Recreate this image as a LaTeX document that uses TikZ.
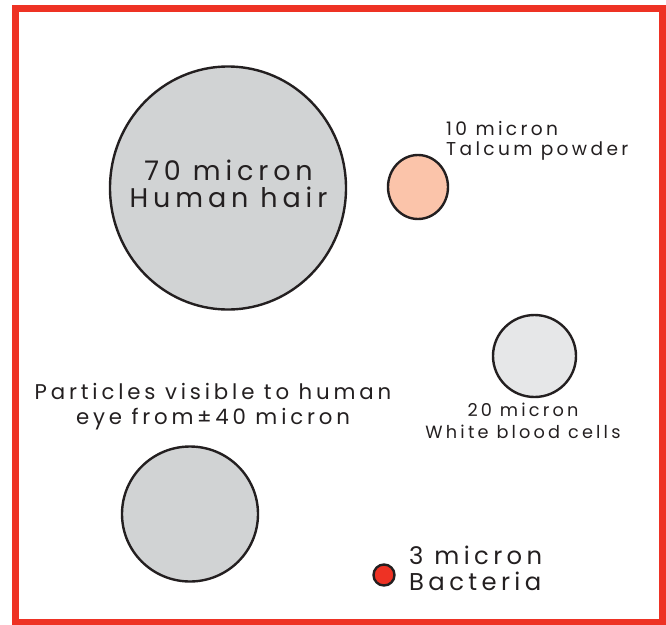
\documentclass[tikz,border=0pt]{standalone}
\usepackage{fontspec}
\setmainfont{Poppins}[LetterSpace=18]
\usetikzlibrary{shapes.geometric}
\definecolor{frame}{HTML}{EE3224}
\definecolor{ink}{HTML}{231F20}
\definecolor{hairgray}{HTML}{D1D3D4}
\definecolor{wbcgray}{HTML}{E6E7E8}
\definecolor{talc}{HTML}{FBC4AA}
\begin{document}
\begin{tikzpicture}[x=1pt,y=-1pt,
  particle/.style={ellipse, draw=ink, line width=2.4pt, inner sep=0pt, outer sep=0pt},
  lbl/.style={text=ink, inner sep=0pt},
  talclbl/.style={lbl, font=\fontsize{18.6}{20.5}\selectfont},
  vislbl/.style={lbl, font=\fontsize{21.3}{25}\selectfont},
  wbclbl/.style={lbl, font=\fontsize{17.7}{21.5}\selectfont},
  biglbl/.style={lbl, font=\fontsize{24.3}{26}\selectfont},
  hairlbl/.style={lbl, font=\fontsize{27}{27}\selectfont}]
\useasboundingbox (0,0) rectangle (666,624);
\draw[frame, line width=7pt] (15.5,8) rectangle (662.5,622);
% particles
\node[particle, fill=hairgray, minimum width=236pt, minimum height=243pt] (hair) at (228,188) {};
\node[particle, fill=talc, minimum width=60pt, minimum height=64pt] (talc) at (418,187) {};
\node[particle, fill=wbcgray, minimum width=83pt, minimum height=82pt] (wbc) at (534.5,356) {};
\node[particle, fill=hairgray, minimum width=136pt, minimum height=135pt] (visible) at (190,514) {};
\node[particle, fill=frame, minimum width=21pt, minimum height=21pt] (bact) at (384,575) {};
% labels
\node[hairlbl, align=center] (hairtxt) at (228.5,184) {70 micron\\Human hair};
\node[talclbl, align=left, anchor=west] (talctxt) at (446,141) {10 micron\\Talcum powder};
\node[vislbl, align=center] (vistxt) at (213,407) {Particles visible to human\\eye from\,±\,40 micron};
\node[wbclbl, align=center] (wbctxt) at (523,421) {20 micron\\White blood cells};
\node[biglbl, align=left, anchor=west] (bacttxt) at (409,568) {3 micron\\Bacteria};
\end{tikzpicture}
\end{document}
